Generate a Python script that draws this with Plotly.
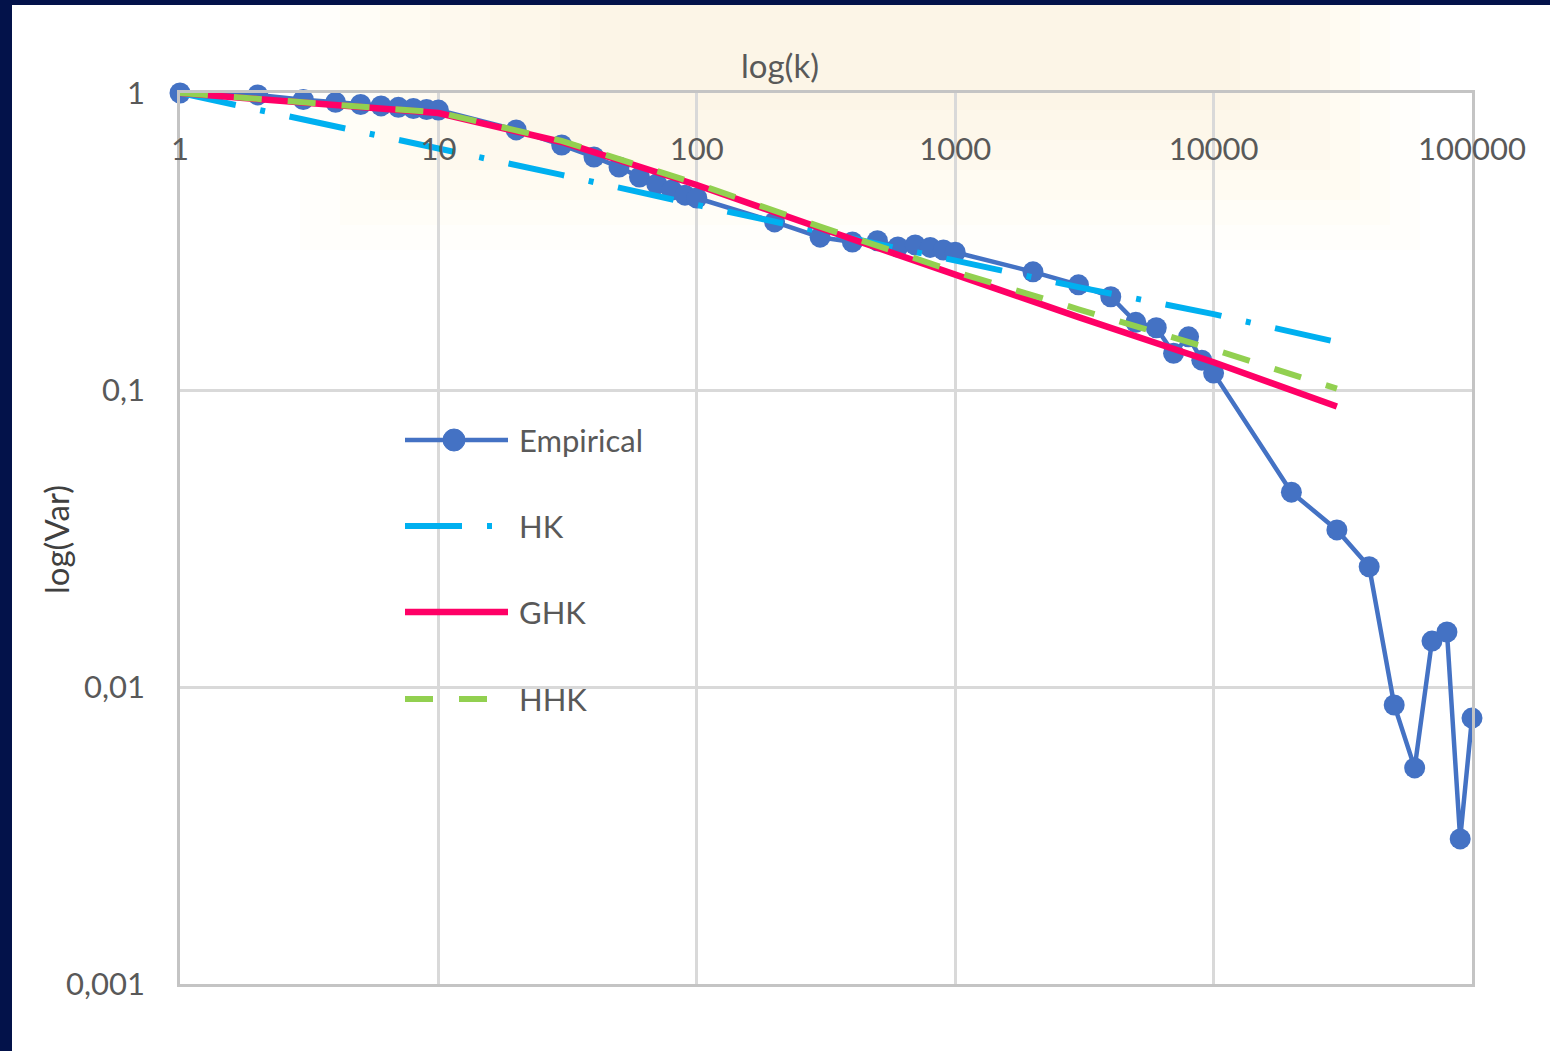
import plotly.graph_objects as go

# ---- data -------------------------------------------------------------
k_emp = [1, 2, 3, 4, 5, 6, 7, 8, 9, 10,
         20, 30, 40, 50, 60, 70, 80, 90, 100,
         200, 300, 400, 500, 600, 700, 800, 900, 1000,
         2000, 3000, 4000, 5000, 6000, 7000, 8000, 9000, 10000,
         20000, 30000, 40000, 50000, 60000, 70000, 80000, 90000, 100000]
var_emp = [1.0, 0.985, 0.95, 0.93, 0.915, 0.905, 0.895, 0.887, 0.88, 0.876,
           0.751, 0.668, 0.609, 0.563, 0.521, 0.494, 0.471, 0.453, 0.443,
           0.368, 0.327, 0.315, 0.318, 0.303, 0.308, 0.302, 0.296, 0.291,
           0.250, 0.226, 0.206, 0.169, 0.162, 0.133, 0.151, 0.126, 0.114,
           0.0453, 0.0338, 0.0254, 0.0087, 0.00534, 0.01428, 0.01532, 0.00308, 0.00786]

k_model = [1, 3, 10, 30, 100, 300, 1000, 3000, 10000, 30000]
var_hk = [1.0, 0.815, 0.653, 0.53, 0.42, 0.342, 0.274, 0.222, 0.180, 0.145]
var_ghk = [1.0, 0.933, 0.856, 0.684, 0.49, 0.351, 0.244, 0.176, 0.124, 0.088]
var_hhk = [1.0, 0.935, 0.86, 0.69, 0.495, 0.355, 0.25, 0.187, 0.137, 0.101]

x_ticks = [1, 10, 100, 1000, 10000, 100000]
x_ticktext = ["1", "10", "100", "1000", "10000", "100000"]
y_ticks = [0.001, 0.01, 0.1, 1]
y_ticktext = ["0,001", "0,01", "0,1", "1"]

series_names = ["Empirical", "HK", "GHK", "HHK"]
x_title = "log(k)"
y_title = "log(Var)"

# ---- styling ----------------------------------------------------------
C_EMP = "#4472C4"
C_HK = "#00B0F0"
C_GHK = "#FF0066"
C_HHK = "#92D050"
TXT = "#595959"
FONT = "Lato"
DASH_HK = "57px,25px,5px,25px"
DASH_HHK = "28px,26px"

W, H = 1550, 1051
ML, MR, MT, MB = 180, 78, 93, 67
PW, PH = W - ML - MR, H - MT - MB


def px_x(px):
    return (px - ML) / PW


def px_y(py):
    return (H - MB - py) / PH


fig = go.Figure()

fig.add_trace(go.Scatter(
    x=k_emp, y=var_emp, name=series_names[0], mode="lines+markers",
    line=dict(color=C_EMP, width=4.5),
    marker=dict(color=C_EMP, size=21),
    cliponaxis=False,
))
fig.add_trace(go.Scatter(
    x=k_model, y=var_hk, name=series_names[1], mode="lines",
    line=dict(color=C_HK, width=6, dash=DASH_HK),
))
fig.add_trace(go.Scatter(
    x=k_model, y=var_ghk, name=series_names[2], mode="lines",
    line=dict(color=C_GHK, width=6.5),
))
fig.add_trace(go.Scatter(
    x=k_model, y=var_hhk, name=series_names[3], mode="lines",
    line=dict(color=C_HHK, width=6, dash=DASH_HHK),
))

shapes = []
# slide frame
NAVY = "#03124A"
shapes.append(dict(type="rect", xref="paper", yref="paper", layer="below",
                   x0=px_x(0), x1=px_x(12), y0=px_y(H), y1=px_y(0),
                   fillcolor=NAVY, line=dict(width=0)))
shapes.append(dict(type="rect", xref="paper", yref="paper", layer="below",
                   x0=px_x(0), x1=px_x(W), y0=px_y(5), y1=px_y(0),
                   fillcolor=NAVY, line=dict(width=0)))
# soft warm glow behind the top of the chart (stacked faint layers)
glow = [(300, 1420, 250, 0.07), (340, 1390, 225, 0.08), (380, 1360, 200, 0.09),
        (430, 1330, 170, 0.10), (490, 1290, 140, 0.10), (560, 1240, 110, 0.10)]
for (x0, x1, y1, a) in glow:
    shapes.append(dict(type="rect", xref="paper", yref="paper", layer="below",
                       x0=px_x(x0), x1=px_x(x1), y0=px_y(y1), y1=px_y(5),
                       fillcolor=f"rgba(250,238,205,{a})", line=dict(width=0)))

# legend block
leg_x0, leg_x1, leg_tx = 405, 508, 517
leg_rows = [440, 526, 612, 699]
leg_styles = [(C_EMP, 4.5, "solid"), (C_HK, 6, DASH_HK), (C_GHK, 6.5, "solid"), (C_HHK, 6, DASH_HHK)]
annotations = []
for name, py, (col, wd, dash) in zip(series_names, leg_rows, leg_styles):
    shapes.append(dict(type="line", xref="paper", yref="paper",
                       x0=px_x(leg_x0), x1=px_x(leg_x1), y0=px_y(py), y1=px_y(py),
                       line=dict(color=col, width=wd, dash=dash)))
    annotations.append(dict(xref="paper", yref="paper", x=px_x(leg_tx), y=px_y(py),
                            xanchor="left", yanchor="middle", showarrow=False,
                            text=name, font=dict(family=FONT, size=31, color=TXT)))
shapes.append(dict(type="circle", xref="paper", yref="paper",
                   x0=px_x(443), x1=px_x(465), y0=px_y(451), y1=px_y(429),
                   fillcolor=C_EMP, line=dict(color=C_EMP, width=1)))

# axis titles
annotations.append(dict(xref="paper", yref="paper", x=px_x(780), y=px_y(65),
                        xanchor="center", yanchor="middle", showarrow=False,
                        text=x_title, font=dict(family=FONT, size=33, color=TXT)))
annotations.append(dict(xref="paper", yref="paper", x=px_x(56), y=px_y(540),
                        xanchor="center", yanchor="middle", showarrow=False, textangle=-90,
                        text=y_title, font=dict(family=FONT, size=33, color="#404040")))

fig.update_layout(
    width=W, height=H,
    margin=dict(l=ML, r=MR, t=MT, b=MB),
    paper_bgcolor="white",
    plot_bgcolor="rgba(0,0,0,0)",
    showlegend=False,
    shapes=shapes,
    annotations=annotations,
    font=dict(family=FONT, color=TXT),
)

fig.update_xaxes(
    type="log", range=[0, 5], side="top",
    tickvals=x_ticks, ticktext=x_ticktext,
    ticks="", ticklabelstandoff=-82,
    tickfont=dict(family=FONT, size=31, color=TXT),
    showgrid=True, gridcolor="#D9D9D9", gridwidth=2.5,
    showline=True, linecolor="#C4C4C4", linewidth=3, mirror=True,
    zeroline=False,
)
fig.update_yaxes(
    type="log", range=[-3, 0],
    tickvals=y_ticks, ticktext=y_ticktext, ticks="",
    ticklabelstandoff=26,
    tickfont=dict(family=FONT, size=31, color=TXT),
    showgrid=True, gridcolor="#D9D9D9", gridwidth=2.5,
    showline=True, linecolor="#C4C4C4", linewidth=2.5, mirror=True,
    zeroline=False,
)

fig.write_html("out.html")
